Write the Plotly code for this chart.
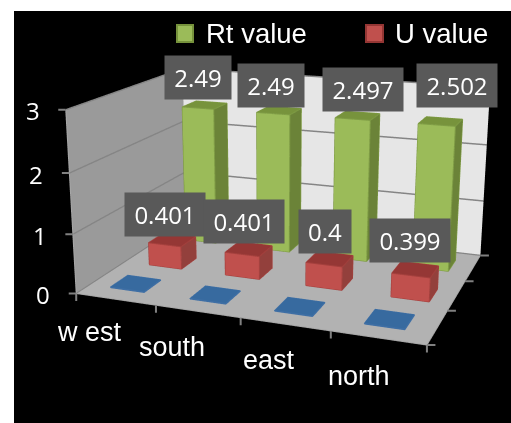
import plotly.graph_objects as go

# Chart data
categories = ["w est", "south", "east", "north"]
rt_values = [2.49, 2.49, 2.497, 2.502]
u_values = [0.401, 0.401, 0.4, 0.399]
base_values = [0.01, 0.01, 0.01, 0.01]
z_ticks = [0, 1, 2, 3]
x_ticks = [0, 1, 2, 3, 4]
y_ticks = [0, 1, 2, 3]

# Pixel nudges of the value boxes and category names
rt_shift = [(-5, 27), (-6, 25), (8, 26), (19, 35)]
u_shift = [(-7, 23), (-4, 25), (-3, 25), (-3, 26)]
name_shift = [(-26, -33), (-26, -36), (-16, -36), (-19, -38)]

FONT_NUM = "Open Sans"
FONT_TXT = "Liberation Sans"
TICK = "#808080"


def bar_traces(values, depth, nudge_x, nudge_y, front, side, top, edge):
    """One box per category on the given depth row of the floor."""
    xs, ys, zs, i, j, k, colors = [], [], [], [], [], [], []
    ex, ey, ez = [], [], []
    for n, v in enumerate(values):
        x0, x1 = n + 0.33 + nudge_x, n + 0.76 + nudge_x
        y0, y1 = depth + 0.27 + nudge_y, depth + 0.70 + nudge_y
        b = len(xs)
        xs += [x0, x1, x1, x0, x0, x1, x1, x0]
        ys += [y0, y0, y1, y1, y0, y0, y1, y1]
        zs += [0, 0, 0, 0, v, v, v, v]
        faces = [((0, 1, 5), front), ((0, 5, 4), front),
                 ((1, 2, 6), side), ((1, 6, 5), side),
                 ((4, 5, 6), top), ((4, 6, 7), top)]
        for (a, c, d), col in faces:
            i.append(b + a); j.append(b + c); k.append(b + d); colors.append(col)
        for path in [(0, 1, 5, 4, 0), (4, 7, 6, 5), (1, 2, 6)]:
            for p in path:
                ex.append(xs[b + p]); ey.append(ys[b + p]); ez.append(zs[b + p])
            ex.append(None); ey.append(None); ez.append(None)
    mesh = go.Mesh3d(x=xs, y=ys, z=zs, i=i, j=j, k=k, facecolor=colors, flatshading=True,
                     lighting=dict(ambient=1, diffuse=0, specular=0, fresnel=0),
                     hoverinfo="skip", showscale=False)
    line = go.Scatter3d(x=ex, y=ey, z=ez, mode="lines", line=dict(color=edge, width=2),
                        hoverinfo="skip", showlegend=False)
    return [mesh, line]


def tick_mark(x, y, z, ax, ay):
    return dict(x=x, y=y, z=z, text="", showarrow=True, arrowhead=0, arrowwidth=2,
                arrowcolor=TICK, ax=ax, ay=ay, standoff=0)


fig = go.Figure()
fig.add_traces(bar_traces(rt_values, 2, -0.01, 0, "#9bbb59", "#6b8338", "#77933c", "#7f9c45"))
fig.add_traces(bar_traces(u_values, 1, 0, -0.08, "#c0504d", "#93403c", "#953735", "#a5403d"))
fig.add_traces(bar_traces(base_values, 0, -0.06, 0.04, "#376a9f", "#376a9f", "#376a9f", "#3f6fa5"))

scene_notes = []
# Value boxes over the two labelled series
for series, depth, shifts in ((rt_values, 2, rt_shift), (u_values, 1, u_shift)):
    for n, v in enumerate(series):
        label = str(v)
        scene_notes.append(dict(
            x=n + 0.5, y=depth + 0.5, z=v, text=label, showarrow=False,
            xshift=shifts[n][0], yshift=shifts[n][1],
            width={3: 52, 4: 66, 5: 80}[len(label)], height=43, borderpad=0,
            bgcolor="#595959",
            font=dict(family=FONT_NUM, size=24, color="white")))
# Category names below the front edge
for n, c in enumerate(categories):
    scene_notes.append(dict(
        x=n + 0.5, y=0, z=0, text=c, showarrow=False,
        xshift=name_shift[n][0], yshift=name_shift[n][1],
        font=dict(family=FONT_TXT, size=27, color="white")))
# Value scale on the left front edge
for v in z_ticks:
    scene_notes.append(dict(
        x=0, y=0, z=v, text=str(v), showarrow=False, xshift=-33, yshift=-1,
        font=dict(family=FONT_NUM, size=24, color="white")))
    scene_notes.append(tick_mark(0, 0, v, -9, 0))
for v in x_ticks:
    scene_notes.append(tick_mark(v, 0, 0, 0, 9))
for v in y_ticks:
    scene_notes.append(tick_mark(4, v, 0, 10, 0))

axis_common = dict(showbackground=True, showspikes=False, title="", zeroline=False,
                   showline=True, linecolor="#a6a6a6", linewidth=2, ticks="",
                   showticklabels=False)
fig.update_layout(
    width=511, height=423, margin=dict(l=0, r=0, t=0, b=0),
    paper_bgcolor="white", showlegend=False,
    shapes=[
        dict(type="rect", xref="paper", yref="paper", layer="below", x0=14 / 511, x1=1,
             y0=0, y1=412 / 423, fillcolor="black", line_width=0),
        dict(type="rect", xref="paper", yref="paper", x0=177 / 511, x1=193 / 511,
             y0=1 - 42 / 423, y1=1 - 25 / 423, fillcolor="#9bbb59", line=dict(color="#76923c", width=2)),
        dict(type="rect", xref="paper", yref="paper", x0=366 / 511, x1=383 / 511,
             y0=1 - 42 / 423, y1=1 - 25 / 423, fillcolor="#c0504d", line=dict(color="#943634", width=2)),
    ],
    annotations=[
        dict(text="Rt value", x=204 / 511, y=1 - 33 / 423, xref="paper", yref="paper",
             xanchor="left", yanchor="middle", showarrow=False,
             font=dict(family=FONT_TXT, size=27.5, color="white")),
        dict(text="U value", x=393 / 511, y=1 - 33 / 423, xref="paper", yref="paper",
             xanchor="left", yanchor="middle", showarrow=False,
             font=dict(family=FONT_TXT, size=27.5, color="white")),
    ],
    scene=dict(
        domain=dict(x=[0, 1], y=[0, 1]),
        bgcolor="rgba(0,0,0,0)",
        aspectmode="manual",
        aspectratio=dict(x=1.9062, y=1.3887, z=1),
        camera=dict(
            projection=dict(type="perspective"),
            eye=dict(x=1.9381, y=-5.3526, z=1.5735),
            center=dict(x=-0.152, y=-0.102, z=-0.123),
            up=dict(x=-0.1011, y=0.2692, z=0.9578),
        ),
        xaxis=dict(axis_common, range=[0, 4], tickvals=x_ticks,
                   backgroundcolor="#9a9a9a", showgrid=False),
        yaxis=dict(axis_common, range=[0, 3], tickvals=y_ticks,
                   backgroundcolor="#e6e6e6", showgrid=False),
        zaxis=dict(axis_common, range=[0, 3], tickvals=z_ticks,
                   backgroundcolor="#b2b2b2", showgrid=True, gridcolor="#858585", gridwidth=3),
        annotations=scene_notes,
    ),
)

# A long lens keeps the verticals nearly parallel
narrow_lens = """
var gd = document.querySelector('.plotly-graph-div');
var glp = gd._fullLayout.scene._scene.glplot;
glp.fovy = 0.3883;
glp.redraw();
"""
fig.write_html("out.html", post_script=narrow_lens)
